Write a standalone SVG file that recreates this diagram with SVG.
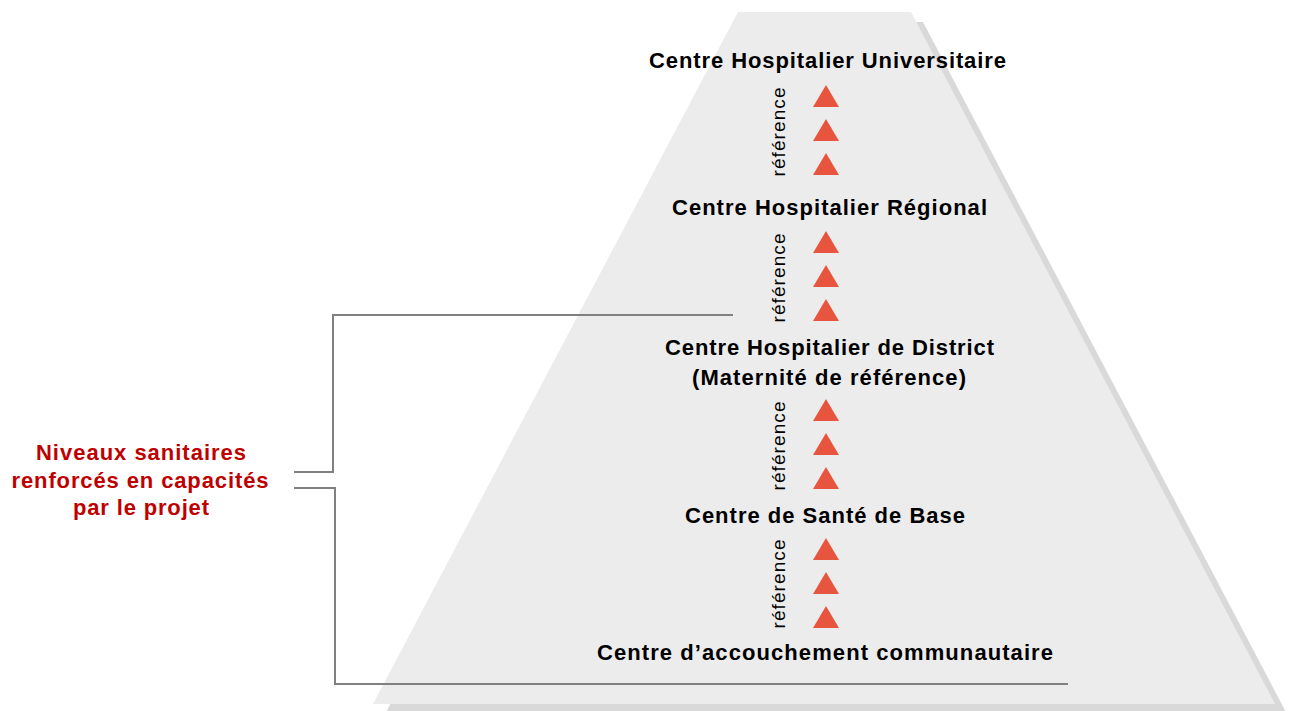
<svg xmlns="http://www.w3.org/2000/svg" width="1293" height="711" viewBox="0 0 1293 711">
  <style>
    .level { font-family: "Liberation Sans", Arial, sans-serif; font-weight: bold; font-size: 22px; fill: #000; text-anchor: middle; }
    .ref { font-family: "Liberation Sans", Arial, sans-serif; font-size: 19px; fill: #000; text-anchor: middle; }
    .note { font-family: "Liberation Sans", Arial, sans-serif; font-weight: bold; font-size: 22px; fill: #c00000; text-anchor: middle; }
    .bracket { fill: none; stroke: #808080; stroke-width: 2; }
    .arrow { fill: #e8553e; }
  </style>
  <defs>
    <path id="tri" d="M0,0 L13,22 L-13,22 Z"/>
  </defs>

  <!-- pyramid with its drop shadow -->
  <g id="pyramid">
    <polygon points="750,22 923,22 1287,714 385,714" fill="#d9d9d9"/>
    <polygon points="738,12 911,12 1275,704 373,704" fill="#ececec"/>
  </g>

  <!-- bracket lines -->
  <g id="connectors" class="bracket">
    <polyline points="294,472 333,472 333,315 733,315"/>
    <polyline points="294,488 335,488 335,684 1068,684"/>
  </g>

  <g id="chu">
    <text class="level" x="827.5" y="68" textLength="357" lengthAdjust="spacing">Centre Hospitalier Universitaire</text>
  </g>
  <g id="ref1">
    <use href="#tri" class="arrow" x="826" y="85"/>
    <use href="#tri" class="arrow" x="826" y="119"/>
    <use href="#tri" class="arrow" x="826" y="153"/>
    <text class="ref" transform="translate(785,132) rotate(-90)" textLength="89" lengthAdjust="spacing">référence</text>
  </g>

  <g id="chr">
    <text class="level" x="829.5" y="215" textLength="315" lengthAdjust="spacing">Centre Hospitalier Régional</text>
  </g>
  <g id="ref2">
    <use href="#tri" class="arrow" x="826" y="231"/>
    <use href="#tri" class="arrow" x="826" y="265"/>
    <use href="#tri" class="arrow" x="826" y="299"/>
    <text class="ref" transform="translate(785,278) rotate(-90)" textLength="89" lengthAdjust="spacing">référence</text>
  </g>

  <g id="chd">
    <text class="level" x="829.5" y="355" textLength="329" lengthAdjust="spacing">Centre Hospitalier de District</text>
    <text class="level" x="829" y="385" textLength="274" lengthAdjust="spacing">(Maternité de référence)</text>
  </g>
  <g id="ref3">
    <use href="#tri" class="arrow" x="826" y="399"/>
    <use href="#tri" class="arrow" x="826" y="433"/>
    <use href="#tri" class="arrow" x="826" y="467"/>
    <text class="ref" transform="translate(785,446) rotate(-90)" textLength="89" lengthAdjust="spacing">référence</text>
  </g>

  <g id="csb">
    <text class="level" x="825" y="523" textLength="280" lengthAdjust="spacing">Centre de Santé de Base</text>
  </g>
  <g id="ref4">
    <use href="#tri" class="arrow" x="826" y="538"/>
    <use href="#tri" class="arrow" x="826" y="572"/>
    <use href="#tri" class="arrow" x="826" y="606"/>
    <text class="ref" transform="translate(785,584) rotate(-90)" textLength="89" lengthAdjust="spacing">référence</text>
  </g>

  <g id="cac">
    <text class="level" x="825" y="660" textLength="456" lengthAdjust="spacing">Centre d’accouchement communautaire</text>
  </g>

  <g id="note">
    <text class="note" x="141" y="460" textLength="210" lengthAdjust="spacing">Niveaux sanitaires</text>
    <text class="note" x="140" y="488" textLength="257" lengthAdjust="spacing">renforcés en capacités</text>
    <text class="note" x="141" y="515" textLength="136" lengthAdjust="spacing">par le projet</text>
  </g>
</svg>
